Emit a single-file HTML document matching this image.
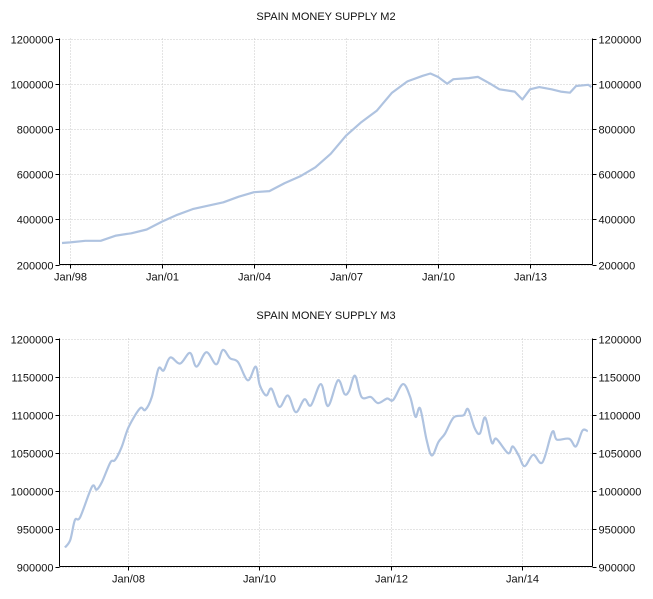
<!DOCTYPE html>
<html><head><meta charset="utf-8"><style>
body{margin:0;background:#fff;width:653px;height:594px;overflow:hidden}
svg text{font-family:"Liberation Sans",sans-serif;font-size:11px;fill:#111}
</style></head><body>
<svg id="svg" width="653" height="594" xmlns="http://www.w3.org/2000/svg"></svg>
<script>
const m2Dates=[1997.74,1998,1998.5,1999,1999.5,2000,2000.5,2001,2001.5,2002,2002.5,2003,2003.5,2004,2004.5,2005,2005.5,2006,2006.5,2007,2007.5,2008,2008.5,2009,2009.5,2009.75,2010,2010.3,2010.5,2011,2011.3,2011.7,2012,2012.5,2012.75,2013,2013.3,2013.7,2014,2014.3,2014.5,2014.9,2015];
const m2Values=[295000,298000,305000,305000,328000,338000,355000,390000,420000,445000,460000,475000,500000,520000,525000,560000,590000,630000,690000,770000,830000,880000,960000,1010000,1035000,1045000,1030000,1000000,1020000,1025000,1030000,1000000,975000,965000,930000,975000,985000,975000,965000,960000,990000,995000,985000];
const m2Ticks=[200000,400000,600000,800000,1000000,1200000];
const m2XTicks=[1998,2001,2004,2007,2010,2013];
const m2XLabels=["Jan/98","Jan/01","Jan/04","Jan/07","Jan/10","Jan/13"];

const m3Dates=[2007.05,2007.13,2007.2,2007.28,2007.46,2007.53,2007.61,2007.74,2007.81,2007.91,2008.02,2008.19,2008.27,2008.37,2008.47,2008.55,2008.65,2008.8,2008.95,2009.05,2009.2,2009.35,2009.45,2009.56,2009.68,2009.83,2009.95,2010.01,2010.11,2010.19,2010.31,2010.44,2010.56,2010.69,2010.79,2010.94,2011.05,2011.2,2011.3,2011.37,2011.46,2011.56,2011.7,2011.81,2011.95,2012.04,2012.19,2012.3,2012.38,2012.45,2012.55,2012.63,2012.73,2012.83,2012.96,2013.11,2013.18,2013.28,2013.36,2013.44,2013.54,2013.61,2013.79,2013.86,2013.95,2014.04,2014.17,2014.31,2014.46,2014.53,2014.72,2014.82,2014.92,2015.0];
const m3Values=[925000,935000,961000,965000,1005000,1001000,1011000,1037000,1040000,1057000,1084000,1108000,1106000,1123000,1160000,1158000,1175000,1167000,1181000,1163000,1182000,1166000,1185000,1174000,1169000,1145000,1163000,1139000,1125000,1134000,1110000,1125000,1103000,1120000,1112000,1140000,1111000,1145000,1127000,1131000,1151000,1123000,1123000,1115000,1121000,1119000,1140000,1123000,1097000,1108000,1066000,1046000,1064000,1075000,1096000,1099000,1107000,1082000,1075000,1096000,1063000,1068000,1049000,1058000,1046000,1032000,1047000,1037000,1077000,1067000,1068000,1058000,1079000,1078000];
const m3Ticks=[900000,950000,1000000,1050000,1100000,1150000,1200000];
const m3XTicks=[2008,2010,2012,2014];
const m3XLabels=["Jan/08","Jan/10","Jan/12","Jan/14"];

const NS="http://www.w3.org/2000/svg";
const svg=document.getElementById('svg');
function mk(tag,attrs,parent){const e=document.createElementNS(NS,tag);for(const k in attrs)e.setAttribute(k,attrs[k]);(parent||svg).appendChild(e);return e;}

function chart(cfg){
  const g=mk('g',{});
  
  
  const L=59.5,R=592.5,T=cfg.top,B=cfg.bottom;
  const sx=v=>cfg.x0px+(v-cfg.x0)*cfg.pxPerYear;
  const sy=v=>B-(v-cfg.ymin)/(cfg.ymax-cfg.ymin)*(B-T);
  const t=mk('text',{x:326,y:cfg.titleY,'text-anchor':'middle'},g);
  t.textContent=cfg.title;
  
  
  cfg.ticks.forEach(v=>{
    const y=Math.round(sy(v))+0.5;
    const gl=mk('line',{x1:L,x2:R,y1:y,y2:y,stroke:'#c8c8c8','stroke-dasharray':'1,2'},g);
    
    
    mk('line',{x1:L-4,x2:L,y1:y,y2:y,stroke:'#000'},g);
    mk('line',{x1:R,x2:R+4,y1:y,y2:y,stroke:'#000'},g);
    const a=mk('text',{x:L-6,y:y+4,'text-anchor':'end'},g);a.textContent=v;
    
    
    const b=mk('text',{x:R+6,y:y+4},g);b.textContent=v;
    
    
  });
  cfg.xticks.forEach((v,i)=>{
    const x=Math.round(sx(v))+0.5;
    const gl=mk('line',{x1:x,x2:x,y1:T,y2:B,stroke:'#c8c8c8','stroke-dasharray':'1,2'},g);
    
    
    mk('line',{x1:x,x2:x,y1:B,y2:B+4,stroke:'#000'},g);
    const l=mk('text',{x:x,y:B+16,'text-anchor':'middle'},g);l.textContent=cfg.xlabels[i];
    
    
  });
  mk('line',{x1:L,x2:L,y1:T,y2:B,stroke:'#000'},g);
  mk('line',{x1:R,x2:R,y1:T,y2:B,stroke:'#000'},g);
  mk('line',{x1:L,x2:R,y1:B,y2:B,stroke:'#000'},g);
  const pts=cfg.dates.map((d,i)=>[sx(d),sy(cfg.values[i])]);
  let d='M'+pts[0][0].toFixed(1)+','+pts[0][1].toFixed(1);
  if(cfg.smooth){
    for(let i=0;i<pts.length-1;i++){
      const p0=pts[Math.max(0,i-1)],p1=pts[i],p2=pts[i+1],p3=pts[Math.min(pts.length-1,i+2)];
      const c1=[p1[0]+(p2[0]-p0[0])/6,p1[1]+(p2[1]-p0[1])/6];
      const c2=[p2[0]-(p3[0]-p1[0])/6,p2[1]-(p3[1]-p1[1])/6];
      d+=' C'+c1.map(n=>n.toFixed(1))+' '+c2.map(n=>n.toFixed(1))+' '+p2.map(n=>n.toFixed(1));
    }
  } else pts.slice(1).forEach(p=>d+=' L'+p[0].toFixed(1)+','+p[1].toFixed(1));
  const line=mk('path',{d:d,fill:'none',stroke:'#afc3e0','stroke-width':2.2,'stroke-linejoin':'round'},g);
  
  
}
chart({name:'m2-chart',title:'SPAIN MONEY SUPPLY M2',titleY:20,top:38.5,bottom:264.5,ymin:200000,ymax:1200000,ticks:m2Ticks,x0:1998,x0px:70,pxPerYear:30.67,xticks:m2XTicks,xlabels:m2XLabels,dates:m2Dates,values:m2Values,smooth:false});
chart({name:'m3-chart',title:'SPAIN MONEY SUPPLY M3',titleY:319,top:338.5,bottom:566.5,ymin:900000,ymax:1200000,ticks:m3Ticks,x0:2008,x0px:127.5,pxPerYear:65.75,xticks:m3XTicks,xlabels:m3XLabels,dates:m3Dates,values:m3Values,smooth:true});
</script>
</body></html>
